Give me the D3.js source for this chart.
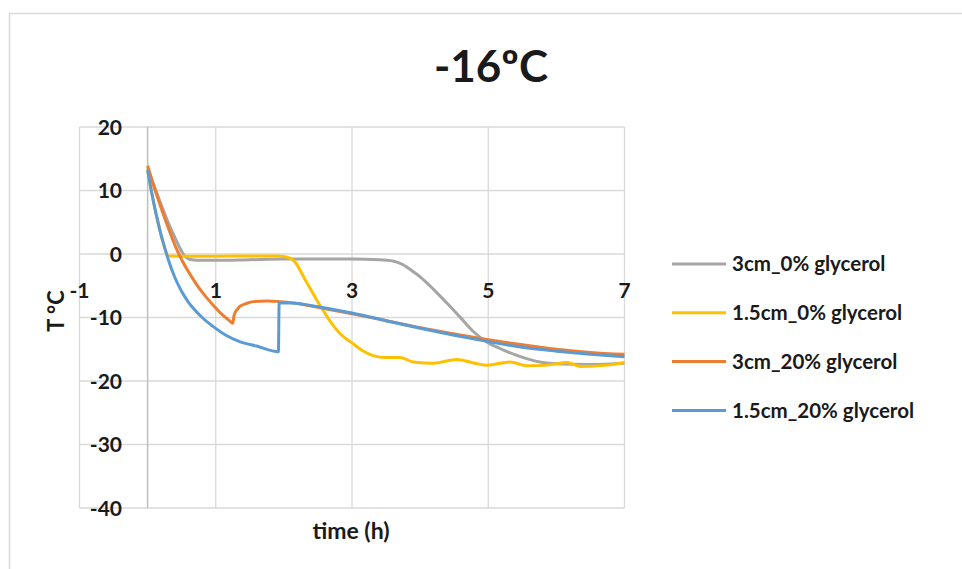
<!DOCTYPE html>
<html>
<head>
<meta charset="utf-8">
<script src="https://cdn.jsdelivr.net/npm/d3@7"></script>
<style>
  html, body { margin: 0; padding: 0; background: #fff; }
  svg text { font-family: Lato, "Liberation Sans", sans-serif; font-weight: bold; fill: #1a1a1a; }
</style>
</head>
<body>
<svg id="chart" width="962" height="569"></svg>
<script>
// Cooling curves at -16 °C: temperature (°C) against time (h)
const seriesNames = ["3cm_0% glycerol", "1.5cm_0% glycerol", "3cm_20% glycerol", "1.5cm_20% glycerol"];
const seriesColors = ["#A5A5A5", "#FFC000", "#ED7D31", "#5B9BD5"];

const gray3cm0 = [
  [0, 13.5], [0.1, 10.6], [0.2, 7.7], [0.3, 5.0], [0.4, 2.6], [0.5, 0.4], [0.56, -0.5],
  [0.65, -0.9], [0.8, -1.0], [1.0, -1.0], [1.5, -0.9], [2.0, -0.8], [2.5, -0.8], [3.0, -0.8],
  [3.4, -0.9], [3.6, -1.1], [3.75, -1.7], [3.9, -2.8], [4.0, -3.6], [4.2, -5.6], [4.4, -7.8],
  [4.6, -10.1], [4.8, -12.4], [5.0, -14.0], [5.2, -15.0], [5.4, -15.9], [5.6, -16.6],
  [5.8, -17.1], [6.0, -17.3], [6.5, -17.4], [7.0, -17.2]
];
const yellow15cm0 = [
  [0, 13.2], [0.05, 10.2], [0.1, 7.5], [0.15, 5.1], [0.2, 2.9], [0.25, 1.0], [0.3, -0.3],
  [0.6, -0.35], [1.0, -0.35], [1.5, -0.3], [1.9, -0.3], [2.05, -0.5], [2.16, -1.2], [2.3, -3.8],
  [2.48, -7.2], [2.68, -10.6], [2.85, -12.8], [3.0, -14.0], [3.15, -15.2], [3.31, -16.0],
  [3.5, -16.3], [3.7, -16.3], [3.9, -17.0], [4.2, -17.2], [4.54, -16.6], [4.8, -17.2],
  [4.98, -17.5], [5.32, -17.0], [5.57, -17.6], [5.87, -17.5], [6.16, -17.1], [6.35, -17.7],
  [6.75, -17.5], [7.0, -17.1]
];
const orange3cm20 = [
  [0, 13.9], [0.1, 10.4], [0.2, 7.2], [0.3, 4.2], [0.4, 1.4], [0.5, -0.9], [0.6, -2.8],
  [0.7, -4.5], [0.8, -6.0], [0.9, -7.3], [1.0, -8.5], [1.1, -9.6], [1.2, -10.5], [1.25, -10.9],
  [1.27, -9.6], [1.35, -8.3], [1.45, -7.8], [1.55, -7.5], [1.75, -7.4], [1.95, -7.5],
  [2.2, -7.8], [2.5, -8.4], [3.0, -9.4], [3.5, -10.5], [4.0, -11.6], [4.5, -12.6],
  [5.0, -13.5], [5.5, -14.3], [6.0, -15.0], [6.5, -15.5], [7.0, -15.8]
];
const blue15cm20 = [
  [0, 13.2], [0.05, 10.2], [0.1, 7.5], [0.15, 5.1], [0.2, 2.9], [0.25, 1.0], [0.3, -0.8],
  [0.4, -3.7], [0.5, -5.9], [0.6, -7.6], [0.7, -8.9], [0.8, -10.0], [0.96, -11.4],
  [1.15, -12.8], [1.35, -13.8], [1.6, -14.5], [1.92, -15.4], [1.93, -7.7], [2.1, -7.7],
  [2.5, -8.3], [3.0, -9.3], [3.5, -10.5], [4.0, -11.7], [4.5, -12.8], [5.0, -13.8],
  [5.5, -14.7], [6.0, -15.3], [6.5, -15.8], [7.0, -16.2]
];
const seriesData = [gray3cm0, yellow15cm0, orange3cm20, blue15cm20];

const xTicks = [-1, 1, 3, 5, 7];
const yTicks = [20, 10, 0, -10, -20, -30, -40];

const svg = d3.select("#chart");

// outer chart frame
svg.append("rect")
  .attr("x", 9.5).attr("y", 13.5).attr("width", 980).attr("height", 600)
  .attr("fill", "#fff").attr("stroke", "#d9d9d9").attr("stroke-width", 1.5);

const x = d3.scaleLinear().domain([-1, 7]).range([79.5, 624.5]);
const y = d3.scaleLinear().domain([-40, 20]).range([508, 127]);

// grid
const grid = svg.append("g").attr("stroke", "#d9d9d9").attr("stroke-width", 1.3);
grid.selectAll("line.v").data(xTicks).join("line")
  .attr("x1", d => x(d)).attr("x2", d => x(d)).attr("y1", y(20)).attr("y2", y(-40));
grid.selectAll("line.h").data(yTicks).join("line")
  .attr("x1", x(-1)).attr("x2", x(7)).attr("y1", d => y(d)).attr("y2", d => y(d));

// value axis line at t = 0
svg.append("line")
  .attr("x1", x(0)).attr("x2", x(0)).attr("y1", y(20)).attr("y2", y(-40))
  .attr("stroke", "#bfbfbf").attr("stroke-width", 1.5);

// y tick labels
svg.append("g").selectAll("text").data(yTicks).join("text")
  .attr("x", 122).attr("y", d => y(d)).attr("dy", "0.36em")
  .attr("text-anchor", "end").attr("font-size", 21).text(d => d);

// x tick labels (below the t-axis at T = 0)
svg.append("g").selectAll("text").data(xTicks).join("text")
  .attr("x", d => x(d)).attr("y", 290).attr("dy", "0.36em")
  .attr("text-anchor", "middle").attr("font-size", 21).text(d => d);

// lines
const line = d3.line().x(d => x(d[0])).y(d => y(d[1])).curve(d3.curveMonotoneX);
svg.append("g").selectAll("path").data(seriesData).join("path")
  .attr("d", line)
  .attr("fill", "none")
  .attr("stroke", (d, i) => seriesColors[i])
  .attr("stroke-width", 3)
  .attr("stroke-linejoin", "round");

// title
svg.append("text").attr("x", 491).attr("y", 82).attr("text-anchor", "middle")
  .attr("font-size", 44).text("-16ºC");

// axis titles
svg.append("text").attr("x", 351).attr("y", 539).attr("text-anchor", "middle")
  .attr("font-size", 23).text("time (h)");
svg.append("text").attr("transform", "translate(64,311) rotate(-90)")
  .attr("text-anchor", "middle").attr("font-size", 22).text("T °C");

// legend
const legend = svg.append("g").selectAll("g").data(seriesNames).join("g")
  .attr("transform", (d, i) => `translate(672, ${264 + i * 48.8})`);
legend.append("line").attr("x1", 0).attr("x2", 54).attr("y1", 0).attr("y2", 0)
  .attr("stroke", (d, i) => seriesColors[i]).attr("stroke-width", 3);
legend.append("text").attr("x", 60).attr("y", 0).attr("dy", "0.36em")
  .attr("font-size", 20.5).text(d => d);
</script>
</body>
</html>
